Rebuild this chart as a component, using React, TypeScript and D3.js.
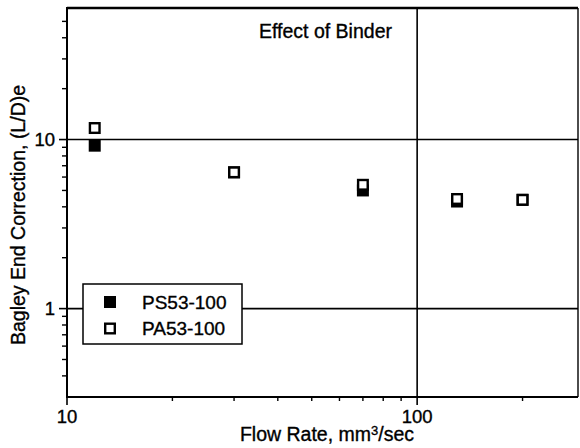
import React from "react";
import * as d3 from "d3";

const flowRates = [12, 30, 70, 130, 200];
const ps53Values = [9.2, 6.4, 5.0, 4.3, 4.4];
const pa53Values = [11.7, 6.4, 5.4, 4.45, 4.4];
const seriesNames = ["PS53-100", "PA53-100"];
const xDomain = [10, 288];
const yDomain = [0.3, 60];
const xTickLabels = [10, 100];
const yTickLabels = [1, 10];
const xMinorTicks = [20, 30, 40, 50, 60, 70, 80, 90, 200];
const yMinorTicks = [0.4, 0.5, 0.6, 0.7, 0.8, 0.9, 2, 3, 4, 5, 6, 7, 8, 9, 20, 30, 40, 50];

const W = 580, H = 448;
const L = 67, R = 578, T = 8, B = 397;
const FONT = "'Liberation Sans', Arial, sans-serif";

export default function App() {
  const x = d3.scaleLog().domain(xDomain).range([L, R]);
  const y = d3.scaleLog().domain(yDomain).range([B, T]);
  const ms = 12;
  const sw = 2.4;
  const txt = { stroke: "#000", strokeWidth: 0.35 };
  return (
    <svg width={W} height={H} style={{ position: "absolute", left: 0, top: 0, background: "#fff" }} fontFamily={FONT}>
      <rect x={0} y={0} width={W} height={H} fill="#fff" />
      {/* grid lines */}
      <line x1={L} x2={R} y1={y(10)} y2={y(10)} stroke="#000" strokeWidth={1.6} />
      <line x1={L} x2={R} y1={y(1)} y2={y(1)} stroke="#000" strokeWidth={1.6} />
      <line x1={x(100)} x2={x(100)} y1={T} y2={B} stroke="#000" strokeWidth={1.6} />
      {/* frame */}
      <line x1={L} x2={R} y1={T} y2={T} stroke="#000" strokeWidth={2.4} />
      <line x1={R} x2={R} y1={T} y2={B} stroke="#000" strokeWidth={1.4} />
      <line x1={L} x2={L} y1={T - 1} y2={B + 1} stroke="#000" strokeWidth={2} />
      <line x1={L - 1} x2={R} y1={B} y2={B} stroke="#000" strokeWidth={2} />
      {/* y ticks */}
      {yTickLabels.map((v) => (
        <g key={"yt" + v}>
          <line x1={L - 8} x2={L} y1={y(v)} y2={y(v)} stroke="#000" strokeWidth={1.6} />
          <text x={L - 12} y={y(v)} dy="0.35em" textAnchor="end" fontSize={18.5} {...txt}>{v}</text>
        </g>
      ))}
      {yMinorTicks.map((v) => (
        <line key={"ym" + v} x1={L - 5} x2={L} y1={y(v)} y2={y(v)} stroke="#000" strokeWidth={1.4} />
      ))}
      {/* x ticks */}
      {xTickLabels.map((v) => (
        <g key={"xt" + v}>
          <line x1={x(v)} x2={x(v)} y1={B} y2={B + 8} stroke="#000" strokeWidth={1.6} />
          <text x={x(v)} y={423} textAnchor="middle" fontSize={18.5} {...txt}>{v}</text>
        </g>
      ))}
      {xMinorTicks.map((v) => (
        <line key={"xm" + v} x1={x(v)} x2={x(v)} y1={B} y2={B + 4} stroke="#000" strokeWidth={1.4} />
      ))}
      {/* axis titles */}
      <text x={327} y={441} textAnchor="middle" fontSize={19.5} {...txt}>
        Flow Rate, mm<tspan fontSize={13} dy={-6}>3</tspan><tspan dy={6}>/sec</tspan>
      </text>
      <text transform={`translate(25,${(85 + 345) / 2}) rotate(-90)`} textAnchor="middle" fontSize={19.5} {...txt}>
        Bagley End Correction, (L/D)e
      </text>
      <text x={325.5} y={38} textAnchor="middle" fontSize={19.5} {...txt}>Effect of Binder</text>
      {/* data */}
      {flowRates.map((f, i) => (
        <rect key={"ps" + i} x={x(f) - ms / 2} y={y(ps53Values[i]) - ms / 2} width={ms} height={ms} fill="#000" />
      ))}
      {flowRates.map((f, i) => (
        <rect key={"pa" + i} x={x(f) - (ms - sw) / 2} y={y(pa53Values[i]) - (ms - sw) / 2} width={ms - sw} height={ms - sw} fill="#fff" stroke="#000" strokeWidth={sw} />
      ))}
      {/* legend */}
      <rect x={83} y={284} width={159} height={60} fill="#fff" stroke="#000" strokeWidth={1.5} />
      <rect x={110 - ms / 2} y={302 - ms / 2} width={ms} height={ms} fill="#000" />
      <rect x={110 - (ms - sw) / 2} y={328.5 - (ms - sw) / 2} width={ms - sw} height={ms - sw} fill="#fff" stroke="#000" strokeWidth={sw} />
      <text x={142} y={308.5} fontSize={19} {...txt}>{seriesNames[0]}</text>
      <text x={142} y={335} fontSize={19} {...txt}>{seriesNames[1]}</text>
    </svg>
  );
}
